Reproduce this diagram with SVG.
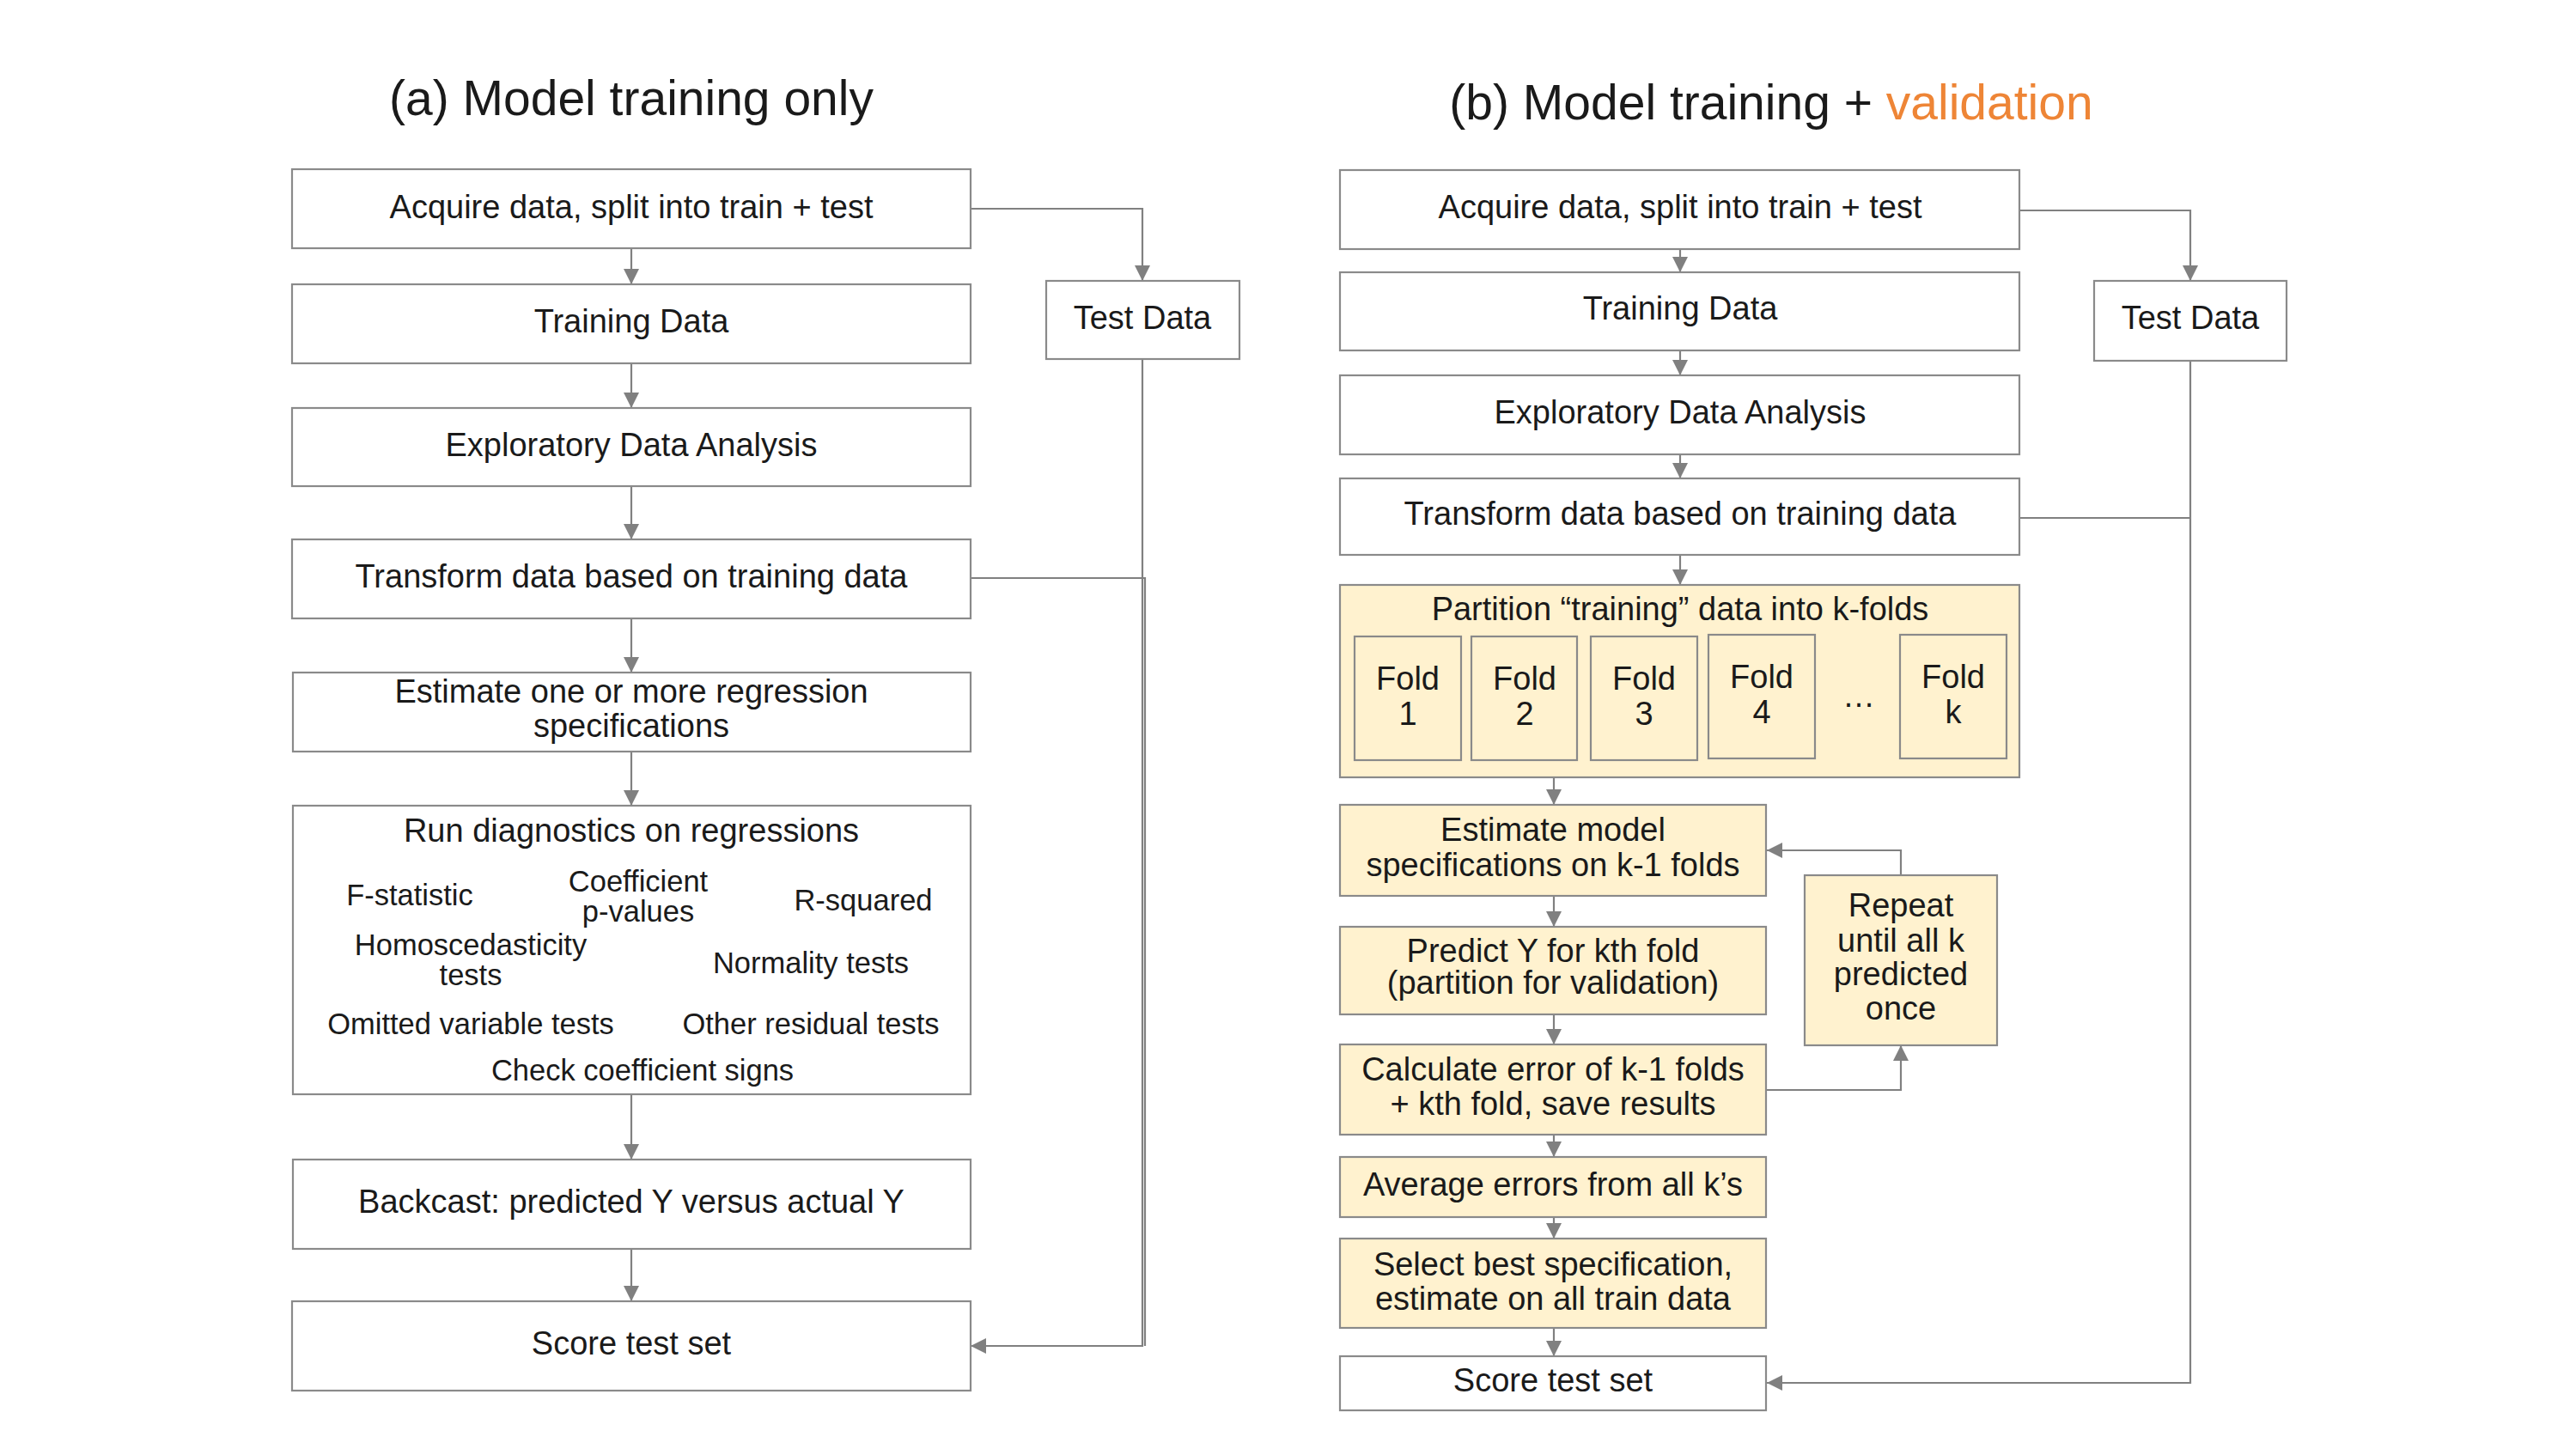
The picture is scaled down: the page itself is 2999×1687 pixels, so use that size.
<svg xmlns="http://www.w3.org/2000/svg" width="2999" height="1687" viewBox="0 0 2999 1687">
<style>
  .box{fill:#ffffff;stroke:#8a8a8a;stroke-width:2.2}
  .ybox{fill:#fff2cf;stroke:#8a8a8a;stroke-width:2.2}
  .t{font-family:"Liberation Sans",Arial,sans-serif;font-size:38px;fill:#1a1a1a;text-anchor:middle}
  .s{font-size:34.5px}
  .title{font-family:"Liberation Sans",Arial,sans-serif;font-size:57px;fill:#1a1a1a;text-anchor:middle}
  .c{fill:none;stroke:#808080;stroke-width:2.2}
</style>
<defs>
  <marker id="ah" markerUnits="userSpaceOnUse" markerWidth="20" markerHeight="20" refX="18" refY="9" orient="auto">
    <path d="M0,0 L18,9 L0,18 z" fill="#808080"/>
  </marker>
</defs>
<rect width="2999" height="1687" fill="#ffffff"/>

<text class="title" x="735" y="134">(a) Model training only</text>
<text class="title" x="2062" y="139">(b) Model training + <tspan fill="#ee8536">validation</tspan></text>

<g id="connectors">
  <path class="c" marker-end="url(#ah)" d="M735,289 L735,331"/>
  <path class="c" marker-end="url(#ah)" d="M735,423 L735,475"/>
  <path class="c" marker-end="url(#ah)" d="M735,566 L735,628"/>
  <path class="c" marker-end="url(#ah)" d="M735,720 L735,783"/>
  <path class="c" marker-end="url(#ah)" d="M735,875 L735,938"/>
  <path class="c" marker-end="url(#ah)" d="M735,1274 L735,1350"/>
  <path class="c" marker-end="url(#ah)" d="M735,1454 L735,1515"/>
  <path class="c" marker-end="url(#ah)" d="M1130,243 L1330,243 L1330,327"/>
  <path class="c" marker-end="url(#ah)" d="M1330,418 L1330,1567 L1130,1567"/>
  <path class="c" d="M1130,673 L1333,673 L1333,1567"/>

  <path class="c" marker-end="url(#ah)" d="M1956,290 L1956,317"/>
  <path class="c" marker-end="url(#ah)" d="M1956,408 L1956,437"/>
  <path class="c" marker-end="url(#ah)" d="M1956,529 L1956,557"/>
  <path class="c" marker-end="url(#ah)" d="M1956,646 L1956,681"/>
  <path class="c" marker-end="url(#ah)" d="M1809,905 L1809,937"/>
  <path class="c" marker-end="url(#ah)" d="M1809,1043 L1809,1079"/>
  <path class="c" marker-end="url(#ah)" d="M1809,1181 L1809,1216"/>
  <path class="c" marker-end="url(#ah)" d="M1809,1321 L1809,1347"/>
  <path class="c" marker-end="url(#ah)" d="M1809,1417 L1809,1442"/>
  <path class="c" marker-end="url(#ah)" d="M1809,1546 L1809,1579"/>
  <path class="c" marker-end="url(#ah)" d="M2056,1269 L2213,1269 L2213,1217"/>
  <path class="c" marker-end="url(#ah)" d="M2213,1019 L2213,990 L2057,990"/>
  <path class="c" marker-end="url(#ah)" d="M2351,245 L2550,245 L2550,327"/>
  <path class="c" marker-end="url(#ah)" d="M2550,420 L2550,1610 L2057,1610"/>
  <path class="c" d="M2351,603 L2550,603"/>
</g>

<g id="a-acquire"><rect class="box" x="340" y="197" width="790" height="92"/><text class="t" x="735" y="254">Acquire data, split into train + test</text></g>
<g id="a-training"><rect class="box" x="340" y="331" width="790" height="92"/><text class="t" x="735" y="387">Training Data</text></g>
<g id="a-test"><rect class="box" x="1218" y="327" width="225" height="91"/><text class="t" x="1330" y="383">Test Data</text></g>
<g id="a-eda"><rect class="box" x="340" y="475" width="790" height="91"/><text class="t" x="735" y="531">Exploratory Data Analysis</text></g>
<g id="a-transform"><rect class="box" x="340" y="628" width="790" height="92"/><text class="t" x="735" y="684">Transform data based on training data</text></g>
<g id="a-estimate"><rect class="box" x="341" y="783" width="789" height="92"/><text class="t" x="735" y="818">Estimate one or more regression</text><text class="t" x="735" y="858">specifications</text></g>
<g id="a-diagnostics"><rect class="box" x="341" y="938" width="789" height="336"/>
  <text class="t" x="735" y="980">Run diagnostics on regressions</text>
  <text class="t s" x="477" y="1054">F-statistic</text>
  <text class="t s" x="743" y="1038">Coefficient</text>
  <text class="t s" x="743" y="1073">p-values</text>
  <text class="t s" x="1005" y="1060">R-squared</text>
  <text class="t s" x="548" y="1112">Homoscedasticity</text>
  <text class="t s" x="548" y="1147">tests</text>
  <text class="t s" x="944" y="1133">Normality tests</text>
  <text class="t s" x="548" y="1204">Omitted variable tests</text>
  <text class="t s" x="944" y="1204">Other residual tests</text>
  <text class="t s" x="748" y="1258">Check coefficient signs</text>
</g>
<g id="a-backcast"><rect class="box" x="341" y="1350" width="789" height="104"/><text class="t" x="735" y="1412">Backcast: predicted Y versus actual Y</text></g>
<g id="a-score"><rect class="box" x="340" y="1515" width="790" height="104"/><text class="t" x="735" y="1577">Score test set</text></g>

<g id="b-acquire"><rect class="box" x="1560" y="198" width="791" height="92"/><text class="t" x="1956" y="254">Acquire data, split into train + test</text></g>
<g id="b-training"><rect class="box" x="1560" y="317" width="791" height="91"/><text class="t" x="1956" y="372">Training Data</text></g>
<g id="b-test"><rect class="box" x="2438" y="327" width="224" height="93"/><text class="t" x="2550" y="383">Test Data</text></g>
<g id="b-eda"><rect class="box" x="1560" y="437" width="791" height="92"/><text class="t" x="1956" y="493">Exploratory Data Analysis</text></g>
<g id="b-transform"><rect class="box" x="1560" y="557" width="791" height="89"/><text class="t" x="1956" y="611">Transform data based on training data</text></g>
<g id="b-partition"><rect class="ybox" x="1560" y="681" width="791" height="224"/>
  <text class="t" x="1956" y="722">Partition “training” data into k-folds</text>
  <rect class="ybox" x="1577" y="741" width="124" height="144"/>
  <text class="t" x="1639" y="803">Fold</text><text class="t" x="1639" y="844">1</text>
  <rect class="ybox" x="1713" y="741" width="123" height="144"/>
  <text class="t" x="1775" y="803">Fold</text><text class="t" x="1775" y="844">2</text>
  <rect class="ybox" x="1852" y="741" width="124" height="144"/>
  <text class="t" x="1914" y="803">Fold</text><text class="t" x="1914" y="844">3</text>
  <rect class="ybox" x="1989" y="739" width="124" height="144"/>
  <text class="t" x="2051" y="801">Fold</text><text class="t" x="2051" y="842">4</text>
  <text class="t" x="2164" y="823">…</text>
  <rect class="ybox" x="2212" y="739" width="124" height="144"/>
  <text class="t" x="2274" y="801">Fold</text><text class="t" x="2274" y="842">k</text>
</g>
<g id="b-estimate"><rect class="ybox" x="1560" y="937" width="496" height="106"/><text class="t" x="1808" y="979">Estimate model</text><text class="t" x="1808" y="1020">specifications on k-1 folds</text></g>
<g id="b-repeat"><rect class="ybox" x="2101" y="1019" width="224" height="198"/>
  <text class="t" x="2213" y="1067">Repeat</text><text class="t" x="2213" y="1108">until all k</text><text class="t" x="2213" y="1147">predicted</text><text class="t" x="2213" y="1187">once</text></g>
<g id="b-predict"><rect class="ybox" x="1560" y="1079" width="496" height="102"/><text class="t" x="1808" y="1120">Predict Y for kth fold</text><text class="t" x="1808" y="1157">(partition for validation)</text></g>
<g id="b-calculate"><rect class="ybox" x="1560" y="1216" width="496" height="105"/><text class="t" x="1808" y="1258">Calculate error of k-1 folds</text><text class="t" x="1808" y="1298">+ kth fold, save results</text></g>
<g id="b-average"><rect class="ybox" x="1560" y="1347" width="496" height="70"/><text class="t" x="1808" y="1392">Average errors from all k’s</text></g>
<g id="b-select"><rect class="ybox" x="1560" y="1442" width="496" height="104"/><text class="t" x="1808" y="1485">Select best specification,</text><text class="t" x="1808" y="1525">estimate on all train data</text></g>
<g id="b-score"><rect class="box" x="1560" y="1579" width="496" height="63"/><text class="t" x="1808" y="1620">Score test set</text></g>
</svg>
